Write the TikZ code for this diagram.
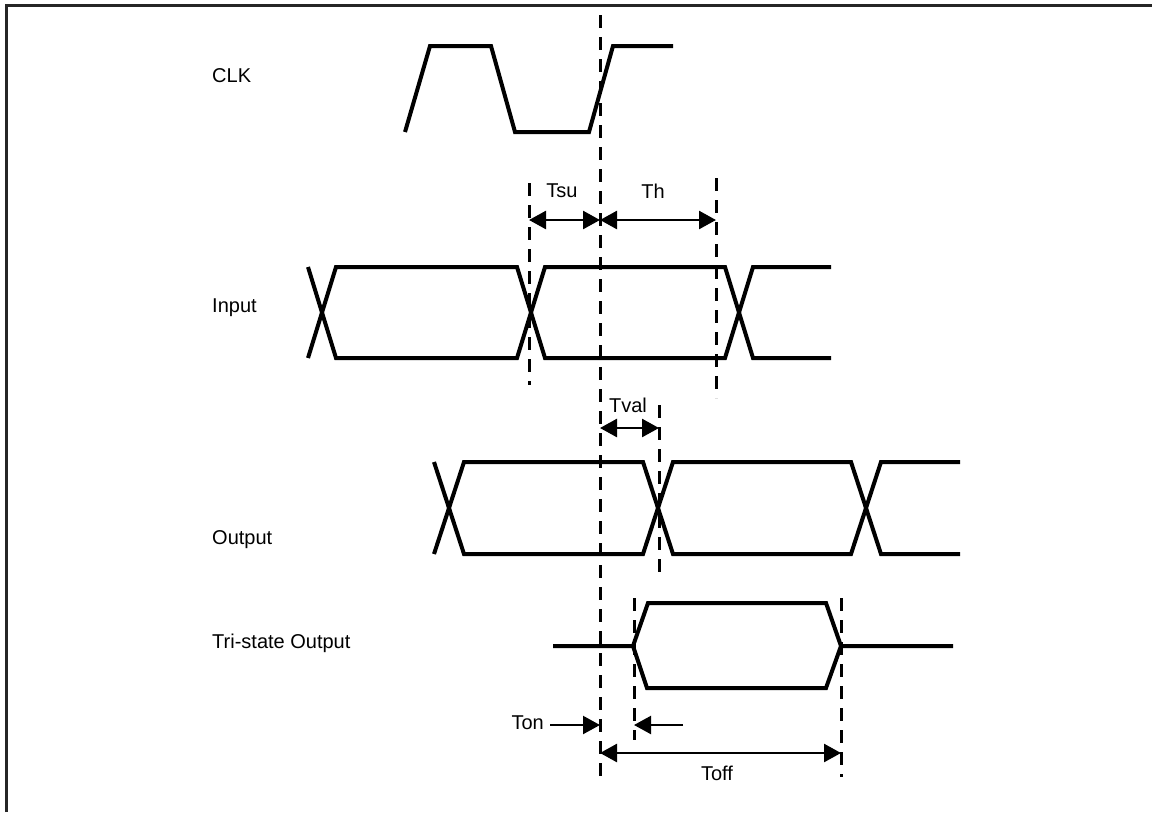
\documentclass[tikz,border=0pt]{standalone}
\usepackage{fontspec}
\setmainfont{Liberation Sans}
\usetikzlibrary{arrows.meta}
\begin{document}
\begin{tikzpicture}[x=1pt,y=-1pt,
  sig/.style={line width=4pt, line join=miter},
  guide/.style={line width=3pt, dash pattern=on 13pt off 9pt},
  dim/.style={line width=2.6pt, {Triangle[length=17pt,width=18pt]}-{Triangle[length=17pt,width=18pt]}},
  onearrow/.style={line width=2.2pt, -{Triangle[length=17pt,width=18pt]}},
  lbl/.style={font=\fontsize{20}{24}\selectfont, inner sep=0pt},
  frame/.style={line width=3pt, black!85}]
\useasboundingbox (0,0) rectangle (1152,812);
% frame
\draw[frame] (6,812) -- (6,5) -- (1152,5);

% signal names
\node[lbl, anchor=west] (nclk) at (212,76) {CLK};
\node[lbl, anchor=west] (nin) at (212,308) {Input};
\node[lbl, anchor=west] (nout) at (212,540) {Output};
\node[lbl, anchor=west] (ntri) at (212,643) {Tri-state Output};

% CLK
\draw[sig] (405,132) -- (430,46) -- (491,46) -- (515,132) -- (589,132) -- (613,46) -- (673,46);

% Input
\draw[sig] (308,358) -- (336,267) -- (517,267) -- (545,358) -- (725,358) -- (753,267) -- (831,267);
\draw[sig] (308,267) -- (336,358) -- (517,358) -- (545,267) -- (725,267) -- (753,358) -- (831,358);

% Output
\draw[sig] (434,554) -- (464,462) -- (643,462) -- (673,554) -- (851,554) -- (881,462) -- (960,462);
\draw[sig] (434,462) -- (464,554) -- (643,554) -- (673,462) -- (851,462) -- (881,554) -- (960,554);

% Tri-state output
\draw[sig] (553,646) -- (633,646) -- (648,603) -- (826,603) -- (841,646) -- (953,646);
\draw[sig] (633,646) -- (647,688) -- (826,688) -- (841,646);

% guide lines
\coordinate (mainT) at (600,15);   \coordinate (mainB) at (600,782);
\coordinate (tsuT) at (529,183);   \coordinate (tsuB) at (529,385);
\coordinate (thT) at (716,178);    \coordinate (thB) at (716,398);
\coordinate (tvalT) at (659,405);  \coordinate (tvalB) at (659,578);
\coordinate (tonT) at (634,598);   \coordinate (tonB) at (634,740);
\coordinate (toffT) at (841,598);  \coordinate (toffB) at (841,777);
\draw[guide] (mainT) -- (mainB);
\draw[guide] (tsuT) -- (tsuB);
\draw[guide] (thT) -- (thB);
\draw[guide] (tvalT) -- (tvalB);
\draw[guide] (tonT) -- (tonB);
\draw[guide] (toffT) -- (toffB);

% dimension arrows
\coordinate (tsuL) at (529,220); \coordinate (tsuR) at (600,220);
\coordinate (thL) at (600,220);  \coordinate (thR) at (716,220);
\coordinate (tvL) at (600,428);  \coordinate (tvR) at (659,428);
\coordinate (toffL) at (600,753); \coordinate (toffR) at (841,753);
\coordinate (tonA) at (550,725); \coordinate (tonAe) at (600,725);
\coordinate (tonB2) at (683,725); \coordinate (tonBe) at (634,725);
\draw[dim] (tsuL) -- (tsuR);
\draw[dim] (thL) -- (thR);
\draw[dim] (tvL) -- (tvR);
\draw[dim] (toffL) -- (toffR);
\draw[onearrow] (tonA) -- (tonAe);
\draw[onearrow] (tonB2) -- (tonBe);

% timing labels
\node[lbl] (ltsu) at (562,191) {Tsu};
\node[lbl] (lth) at (653,191) {Th};
\node[lbl] (ltval) at (628,405) {Tval};
\node[lbl, anchor=east] (lton) at (544,723) {Ton};
\node[lbl] (ltoff) at (717,773) {Toff};
\end{tikzpicture}
\end{document}
